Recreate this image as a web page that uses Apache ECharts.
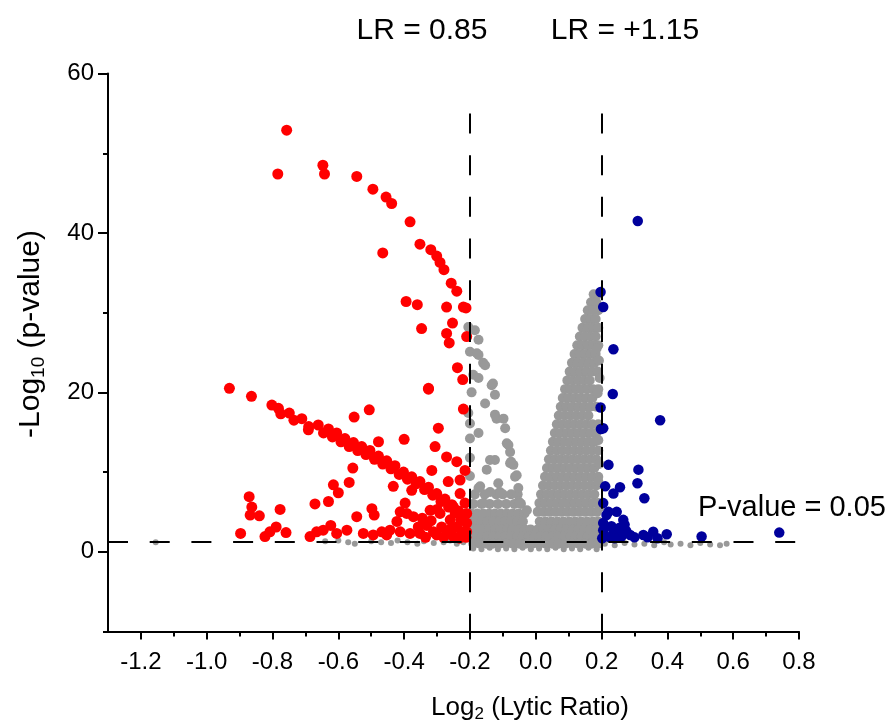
<!DOCTYPE html>
<html>
<head>
<meta charset="utf-8">
<script src="https://cdn.jsdelivr.net/npm/echarts@6/dist/echarts.min.js"></script>
<style>html,body{margin:0;background:#fff}#chart{width:891px;height:722px}</style>
</head>
<body>
<div id="chart"></div>
<script>
'use strict';

/* ---------- axes / guide values ---------- */
const X_MAJOR = [-1.2,-1.0,-0.8,-0.6,-0.4,-0.2,0,0.2,0.4,0.6,0.8];
const X_MINOR = [-1.1,-0.9,-0.7,-0.5,-0.3,-0.1,0.1,0.3,0.5,0.7];
const Y_MAJOR = [0,20,40,60];
const Y_MINOR = [-10,10,30,50];
const LR_CUTS = [-0.2, 0.2];   // log2 of 0.85 / 1.15
const LR_TOP = 55;
const P_CUT = 1.3;             // -log10(0.05)

/* ---------- points: [log2 ratio, -log10 p] ---------- */
const RED = [
  [-0.757,52.9],[-0.784,47.4],[-0.647,48.5],[-0.642,47.4],[-0.544,47.1],[-0.495,45.5],
  [-0.455,44.5],[-0.438,43.7],[-0.382,41.4],[-0.465,37.5],[-0.352,38.6],[-0.319,37.9],
  [-0.301,37.1],[-0.291,36.3],[-0.279,35.4],[-0.257,33.7],[-0.240,32.7],[-0.394,31.4],
  [-0.360,31.0],[-0.271,30.7],[-0.220,30.7],[-0.212,30.6],[-0.253,28.7],[-0.347,28.0],
  [-0.271,27.4],[-0.263,26.2],[-0.210,27.0],[-0.238,23.1],[-0.222,21.6],[-0.326,20.5],
  [-0.931,20.5],[-0.864,19.5],
  // diagonal band
  [-0.802,18.4],[-0.782,18.0],[-0.749,17.4],[-0.711,16.7],[-0.661,15.9],[-0.630,15.4],
  [-0.605,14.9],[-0.580,14.2],[-0.554,13.7],[-0.529,13.2],[-0.504,12.7],[-0.478,12.0],
  [-0.453,11.4],[-0.428,10.8],[-0.402,10.0],[-0.377,9.4],[-0.352,8.8],[-0.326,8.1],
  [-0.301,7.3],[-0.276,6.6],[-0.255,5.9],[-0.235,5.1],[-0.220,4.4],
  [-0.775,17.3],[-0.735,16.5],[-0.690,15.7],[-0.645,14.9],[-0.618,14.4],[-0.592,13.8],
  [-0.567,13.2],[-0.541,12.7],[-0.516,12.2],[-0.490,11.6],[-0.465,11.0],[-0.440,10.4],
  [-0.415,9.7],[-0.390,9.1],[-0.364,8.5],[-0.338,7.8],[-0.313,7.1],[-0.288,6.3],
  [-0.265,5.6],[-0.245,4.9],[-0.228,4.0],
  // scattered
  [-0.691,15.3],[-0.552,16.9],[-0.506,17.8],[-0.326,20.4],[-0.220,17.9],[-0.478,13.8],
  [-0.400,14.1],[-0.296,15.5],[-0.306,13.2],[-0.271,11.9],[-0.240,11.3],[-0.316,10.2],
  [-0.215,10.2],[-0.556,10.5],[-0.567,8.7],[-0.615,8.4],[-0.600,7.4],[-0.433,8.2],
  [-0.377,7.7],[-0.266,8.8],[-0.230,9.0],[-0.630,6.3],[-0.671,6.0],[-0.871,6.9],
  [-0.863,5.6],[-0.868,4.6],[-0.840,4.5],[-0.777,5.3],[-0.897,2.3],[-0.823,1.9],
  [-0.808,2.5],[-0.789,3.1],[-0.759,2.4],[-0.686,1.9],[-0.666,2.5],[-0.646,2.7],
  [-0.623,3.3],[-0.605,2.3],[-0.574,2.7],[-0.544,4.4],[-0.524,2.3],[-0.498,5.4],
  [-0.491,4.6],[-0.468,2.5],[-0.443,2.7],[-0.422,3.8],[-0.412,5.0],[-0.397,6.1],
  [-0.372,4.4],[-0.357,3.1],[-0.331,3.3],[-0.311,2.5],[-0.291,4.8],[-0.286,3.1],
  [-0.260,4.0],[-0.240,3.1],[-0.225,2.5],[-0.215,6.1],[-0.250,5.6],[-0.412,2.5],
  [-0.382,2.3],[-0.352,2.3],[-0.271,2.3],[-0.301,2.1],[-0.453,2.1],[-0.494,2.1],
  [-0.210,2.5],[-0.210,3.6],[-0.210,4.8],[-0.230,7.3],[-0.321,5.2],[-0.392,4.8],
  [-0.335,1.8],[-0.280,1.8],[-0.250,1.9],[-0.232,1.7],[-0.212,1.8],[-0.258,2.9],
  [-0.318,3.9],[-0.345,4.2],[-0.300,5.3]
];

const BLUE = [
  [0.310,41.5],[0.197,32.6],[0.205,30.7],[0.236,25.4],[0.234,19.8],[0.197,18.1],
  [0.205,15.5],[0.198,15.4],[0.378,16.5],[0.221,10.9],[0.312,10.3],[0.309,8.6],
  [0.330,6.7],[0.211,8.2],[0.256,8.1],[0.236,7.3],[0.205,6.1],[0.221,5.0],
  [0.246,5.0],[0.266,4.0],[0.205,3.6],[0.236,2.7],[0.205,2.7],[0.287,2.1],
  [0.327,2.1],[0.357,2.5],[0.398,2.2],[0.504,1.9],[0.740,2.4],
  [0.210,2.0],[0.225,1.8],[0.250,2.2],[0.260,1.9],[0.275,2.6],[0.215,4.6],
  [0.230,3.2],[0.255,3.0],[0.270,3.4],[0.202,1.7],[0.240,1.7],[0.300,1.8],
  [0.340,1.8],[0.370,1.7]
];

// right arm of the V, one row per p level: [y, x, x, ...]
const GREY_ARM = [
  [32.3,0.176,0.190],
  [31.3,0.168,0.184],
  [30.3,0.158,0.174,0.190],
  [29.2,0.150,0.166,0.182],
  [28.1,0.142,0.158,0.174,0.190],
  [27.0,0.134,0.150,0.166,0.182],
  [25.9,0.126,0.142,0.158,0.174,0.190],
  [24.8,0.118,0.134,0.150,0.166,0.182],
  [23.7,0.110,0.127,0.144,0.161,0.178],
  [22.6,0.103,0.120,0.137,0.154,0.171,0.188],
  [21.5,0.096,0.113,0.130,0.147,0.164],
  [20.4,0.089,0.106,0.123,0.140,0.157,0.174,0.190],
  [19.3,0.082,0.100,0.118,0.136,0.154,0.172],
  [18.2,0.076,0.094,0.112,0.130,0.148,0.166,0.184],
  [17.1,0.070,0.088,0.106,0.124,0.142,0.160],
  [16.0,0.064,0.082,0.100,0.118,0.136,0.154,0.172,0.190],
  [14.9,0.058,0.076,0.094,0.112,0.130,0.148,0.166,0.184],
  [13.8,0.052,0.070,0.088,0.106,0.124,0.142,0.160,0.178],
  [12.7,0.046,0.064,0.082,0.100,0.118,0.136,0.154,0.172,0.190],
  [11.6,0.040,0.058,0.076,0.094,0.112,0.130,0.148,0.166,0.184],
  [10.5,0.034,0.052,0.070,0.088,0.106,0.124,0.142,0.160,0.178],
  [9.4,0.028,0.046,0.064,0.082,0.100,0.118,0.136,0.154,0.172,0.190],
  [8.3,0.022,0.040,0.058,0.076,0.094,0.112,0.130,0.148,0.166,0.184],
  [7.2,0.016,0.034,0.052,0.070,0.088,0.106,0.124,0.142,0.160,0.178],
  [6.1,0.011,0.029,0.047,0.065,0.083,0.101,0.119,0.137,0.155,0.173,0.190],
  [5.0,0.006,0.024,0.042,0.060,0.078,0.096,0.114,0.132,0.150,0.168,0.186]
];

// dense mass at the bottom between the two cut-offs
const GREY_BASE = [
  [7.2,-0.185,-0.155,-0.120,-0.100,-0.075,-0.055],
  [6.0,-0.190,-0.165,-0.140,-0.115,-0.090,-0.065,-0.045],
  [4.8,-0.196,-0.178,-0.160,-0.142,-0.124,-0.106,-0.088,-0.070,-0.052,-0.034],
  [3.8,-0.200,-0.183,-0.165,-0.147,-0.129,-0.111,-0.093,-0.075,-0.057,-0.039,
       0.012,0.030,0.048,0.066,0.084,0.102,0.120,0.138,0.156,0.174,0.190],
  [2.8,-0.196,-0.178,-0.160,-0.142,-0.124,-0.106,-0.088,-0.070,-0.052,-0.034,-0.016,
       0.006,0.022,0.040,0.058,0.076,0.094,0.112,0.130,0.148,0.166,0.184],
  [1.9,-0.200,-0.183,-0.165,-0.147,-0.129,-0.111,-0.093,-0.075,-0.057,-0.039,-0.021,
       -0.004,0.014,0.032,0.050,0.068,0.086,0.104,0.122,0.140,0.158,0.176,0.190],
  [1.0,-0.190,-0.170,-0.150,-0.130,-0.110,-0.090,-0.070,-0.050,-0.030,-0.010,
       0.010,0.030,0.050,0.070,0.090,0.110,0.130,0.150,0.170,0.190]
];

// left arm of the V, sparse
const GREY_LEFT = [
  [-0.205,28.2],[-0.185,27.8],[-0.174,26.6],[-0.200,25.1],[-0.174,24.7],[-0.179,24.9],
  [-0.160,23.7],[-0.154,23.4],[-0.190,22.2],[-0.174,21.8],[-0.134,20.9],[-0.130,21.1],
  [-0.124,19.7],[-0.154,18.6],[-0.205,17.4],[-0.124,17.2],[-0.119,16.7],[-0.098,16.7],
  [-0.200,16.1],[-0.093,15.5],[-0.174,14.9],[-0.200,14.2],[-0.088,13.6],[-0.083,13.4],
  [-0.078,12.5],[-0.124,11.5],[-0.139,11.5],[-0.075,11.3],[-0.068,10.9],[-0.078,11.1],
  [-0.149,10.3],[-0.063,9.4],[-0.058,9.6],[-0.169,8.2],[-0.114,8.6],[-0.053,8.0],
  [-0.174,8.0],[-0.139,7.5],[-0.109,7.5],[-0.052,6.3],[-0.159,6.1],[-0.048,6.1],
  [-0.027,5.2],[-0.200,9.5],[-0.200,11.8],[-0.195,20.0]
];

// right-hand side stragglers next to the 0.2 cut-off
const GREY_EDGE = [
  [0.185,25.5],[0.192,24.0],[0.188,19.9],[0.194,21.8],[0.190,14.0],[0.193,11.0],
  [0.190,8.8],[0.195,5.6]
];

// non-significant points under the p line (drawn small)
const GREY_LOW = [
  [-1.155,1.2],[-0.640,1.3],[-0.600,1.4],[-0.570,1.2],[-0.550,1.0],[-0.500,1.3],
  [-0.470,1.2],[-0.440,1.1],[-0.420,1.4],[-0.390,1.2],[-0.360,1.0],[-0.340,1.3],
  [-0.310,1.1],[-0.280,1.2],[-0.260,1.4],[-0.240,1.0],[-0.220,1.2],
  [-0.190,0.4],[-0.165,0.3],[-0.140,0.5],[-0.115,0.3],[-0.090,0.4],[-0.065,0.3],
  [-0.040,0.5],[-0.015,0.3],[0.010,0.4],[0.035,0.3],[0.060,0.5],[0.085,0.3],
  [0.110,0.4],[0.135,0.3],[0.160,0.5],[0.185,0.3],
  [0.210,1.0],[0.240,0.8],[0.270,1.1],[0.300,0.9],[0.330,1.0],[0.360,0.8],
  [0.390,1.2],[0.410,0.9],[0.440,1.0],[0.470,0.8],[0.500,1.1],[0.530,0.9],
  [0.560,0.8],[0.580,1.0]
];

/* ---------- style ---------- */
const F = '"Liberation Sans", Arial, sans-serif';
const COL = {red:'#FF0000', blue:'#00009C', grey:'#999999', ink:'#000000'};

const rows = list => list.flatMap(([y, ...xs]) => xs.map(x => [x, y]));
const GREY = rows(GREY_ARM).concat(rows(GREY_BASE), GREY_LEFT, GREY_EDGE);

// one axis carries line, labels and long ticks; a twin carries the short minor ticks
function axis(min, max, interval, major, minor, isX, fmt){
  const pos = isX ? 'bottom' : 'left';
  return [
    {type:'value', min, max, interval, position:pos,
     splitLine:{show:false}, axisLine:{show:true, onZero:false, lineStyle:{color:COL.ink, width:2}},
     axisTick:{show:true, customValues:major, length:isX?8:10, lineStyle:{color:COL.ink, width:2}},
     axisLabel:{customValues:major, color:COL.ink, fontFamily:F, fontSize:24, margin:isX?19:14, formatter:fmt}},
    {type:'value', min, max, interval, position:pos,
     splitLine:{show:false}, axisLine:{show:false, onZero:false},
     axisTick:{show:true, customValues:minor, length:5, lineStyle:{color:COL.ink, width:2}},
     axisLabel:{show:false}},
  ];
}

const dash = {color:COL.ink, width:2, type:[20, 21.7]};
const guideLines = [
  ...LR_CUTS.map(x => [{coord:[x, LR_TOP]}, {coord:[x, -10]}]),
  [{coord:[-1.3, P_CUT]}, {coord:[0.8, P_CUT]}],
];

const dots = (name, data, color, size) => ({
  name, type:'scatter', data, symbolSize:size, z:3,
  itemStyle:{color, opacity:1}, emphasis:{disabled:true},
});

const chart = echarts.init(document.getElementById('chart'), null, {renderer:'canvas'});
chart.setOption({
  animation:false,
  grid:{left:108, right:92, top:73.6, bottom:90.6},
  xAxis:axis(-1.3, 0.8, 0.1, X_MAJOR, X_MINOR, true, v => v.toFixed(1)),
  yAxis:axis(-10, 60, 10, Y_MAJOR, Y_MINOR, false, v => String(v)),
  series:[
    {type:'scatter', data:[], z:1, silent:true,
     markLine:{silent:true, symbol:'none', label:{show:false}, lineStyle:dash, data:guideLines}},
    dots('grey-low', GREY_LOW, COL.grey, 6),
    dots('grey', GREY, COL.grey, 10),
    dots('down', RED, COL.red, 11),
    dots('up', BLUE, COL.blue, 10.5),
  ],
  graphic:[
    {type:'text', x:422, y:31, style:{text:'LR = 0.85', font:`30px ${F}`, fill:COL.ink, align:'center', verticalAlign:'middle'}},
    {type:'text', x:625, y:31, style:{text:'LR = +1.15', font:`30px ${F}`, fill:COL.ink, align:'center', verticalAlign:'middle'}},
    {type:'text', x:792, y:508, style:{text:'P-value = 0.05', font:`29px ${F}`, fill:COL.ink, align:'center', verticalAlign:'middle'}},
    {type:'text', x:530, y:708, style:{
      text:'{a|Log}{s|2}{a| (Lytic Ratio)}', fill:COL.ink, align:'center', verticalAlign:'middle',
      rich:{a:{fontSize:26, fontFamily:F, lineHeight:30}, s:{fontSize:17, fontFamily:F, lineHeight:17, verticalAlign:'bottom'}}}},
    {type:'text', x:31, y:334, rotation:Math.PI/2, style:{
      text:'{a|-Log}{s|10}{a| (p-value)}', fill:COL.ink, align:'center', verticalAlign:'middle',
      rich:{a:{fontSize:30, fontFamily:F, lineHeight:34}, s:{fontSize:19, fontFamily:F, lineHeight:19, verticalAlign:'bottom'}}}},
  ],
});
</script>
</body>
</html>
